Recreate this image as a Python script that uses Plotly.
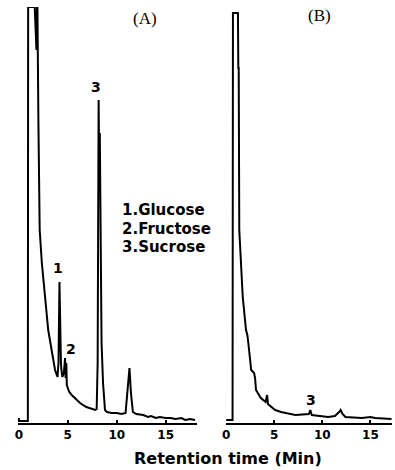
import plotly.graph_objects as go

# Panel A chromatogram (retention time in min, detector signal, arbitrary units)
time_a = [0, 0.02, 0.92, 0.95, 1.62, 1.8, 1.85, 1.9, 2.0, 2.13, 2.35, 2.7, 3.0, 3.4, 3.7,
          3.95, 4.05, 4.15, 4.22, 4.3, 4.35, 4.45, 4.6, 4.72, 4.78, 4.85, 4.9, 5.15, 5.4,
          5.75, 6.25, 6.9, 7.8, 7.95, 8.05, 8.15, 8.22, 8.27, 8.35, 8.45, 8.6, 8.8, 9.0,
          9.5, 10.0, 10.5, 10.9, 11.1, 11.3, 11.45, 11.65, 12.0, 12.7, 13.2, 13.5, 14.0,
          14.4, 15.0, 15.5, 16.0, 16.6, 17.0, 17.5, 18.0]
signal_a = [5, 2, 2, 416, 416, 373, 416, 416, 300, 193, 160, 126, 93, 70, 53,
            46, 60, 141, 90, 60, 53, 46, 50, 65, 45, 60, 38, 31, 28,
            25, 20, 16, 13, 14, 60, 323, 240, 290, 180, 80, 40, 13, 11,
            10, 10, 9, 10, 30, 55, 30, 11, 9, 8, 6, 7, 5,
            6, 5, 5, 4, 5, 3, 4, 3]

# Panel B chromatogram
time_b = [0, 0.66, 0.7, 1.22, 1.26, 1.3, 1.36, 1.72, 2.06, 2.2, 2.3, 2.6, 2.9, 3.0, 3.1,
          3.6, 4.1, 4.25, 4.35, 4.45, 5.1, 5.7, 7.2, 8.6, 8.75, 8.9, 10.6, 11.3, 11.75,
          11.9, 12.1, 12.4, 14.1, 15.0, 15.5, 17.2]
signal_b = [3, 3, 410, 410, 355, 355, 193, 126, 93, 88, 80, 53, 50, 45, 33,
            25, 21, 28, 19, 18, 13, 11, 8, 9, 13, 8, 6, 7, 11,
            13, 9, 6, 5, 6, 5, 4]

tick_vals = [0, 5, 10, 15]
tick_text = ["0", "5", "10", "15"]
legend_lines = ["1.Glucose", "2.Fructose", "3.Sucrose"]
panel_titles = ["(A)", "(B)"]
axis_title = "Retention time (Min)"

W, H = 395, 470
MT, MB = 7, 47
PH = H - MT - MB


def px_x(p):
    return p / W


def px_y(p):
    return (H - MB - p) / PH


fig = go.Figure()
fig.add_trace(go.Scatter(x=time_a, y=signal_a, mode="lines",
                         line=dict(color="black", width=2), xaxis="x", yaxis="y",
                         showlegend=False, hoverinfo="skip"))
fig.add_trace(go.Scatter(x=time_b, y=signal_b, mode="lines",
                         line=dict(color="black", width=2), xaxis="x2", yaxis="y2",
                         showlegend=False, hoverinfo="skip"))

xcommon = dict(showgrid=False, zeroline=False, showline=True, linecolor="black",
               linewidth=1.5, ticks="inside", ticklen=3, tickwidth=1.5, tickcolor="black",
               tickvals=tick_vals, ticktext=tick_text,
               tickfont=dict(family="DejaVu Sans", size=12, color="black", weight="bold"))
ycommon = dict(visible=False, range=[0, 416], showgrid=False, zeroline=False)

fig.update_layout(
    width=W, height=H,
    margin=dict(l=0, r=0, t=MT, b=MB),
    paper_bgcolor="white", plot_bgcolor="white",
    xaxis=dict(domain=[14 / W, 195 / W], range=[-0.1, 18.2], anchor="y", **xcommon),
    xaxis2=dict(domain=[224 / W, 392 / W], range=[-0.05, 17.25], anchor="y2", **xcommon),
    yaxis=dict(anchor="x", **ycommon),
    yaxis2=dict(anchor="x2", **ycommon),
)

ann = []
bold = dict(family="DejaVu Sans", color="black")
# panel titles
ann.append(dict(x=px_x(142), y=px_y(18), text=panel_titles[0],
                font=dict(family="Liberation Serif", size=17, color="black")))
ann.append(dict(x=px_x(319), y=px_y(15), text=panel_titles[1],
                font=dict(family="Liberation Serif", size=17, color="black")))
# legend text
for i, (line, yy) in enumerate(zip(legend_lines, [210, 228.5, 247])):
    ann.append(dict(x=px_x(117), y=px_y(yy), text="<b>" + line + "</b>", xanchor="left",
                    font=dict(size=15, **bold)))
# peak labels
for txt, xx, yy in [("3", 93, 87), ("1", 55, 268), ("2", 68, 349), ("3", 310, 400)]:
    ann.append(dict(x=px_x(xx), y=px_y(yy), text="<b>" + txt + "</b>",
                    font=dict(size=14, **bold)))
# axis title
ann.append(dict(x=px_x(226), y=px_y(458), text="<b>" + axis_title + "</b>",
                font=dict(size=16, **bold)))

for a in ann:
    a.setdefault("xanchor", "center")
    a.update(xref="paper", yref="paper", yanchor="middle", showarrow=False)
fig.update_layout(annotations=ann)

fig.write_html("out.html",
               config={"displayModeBar": False},
               post_script="document.body.style.margin='0';"
                           "document.body.style.overflow='hidden';")
